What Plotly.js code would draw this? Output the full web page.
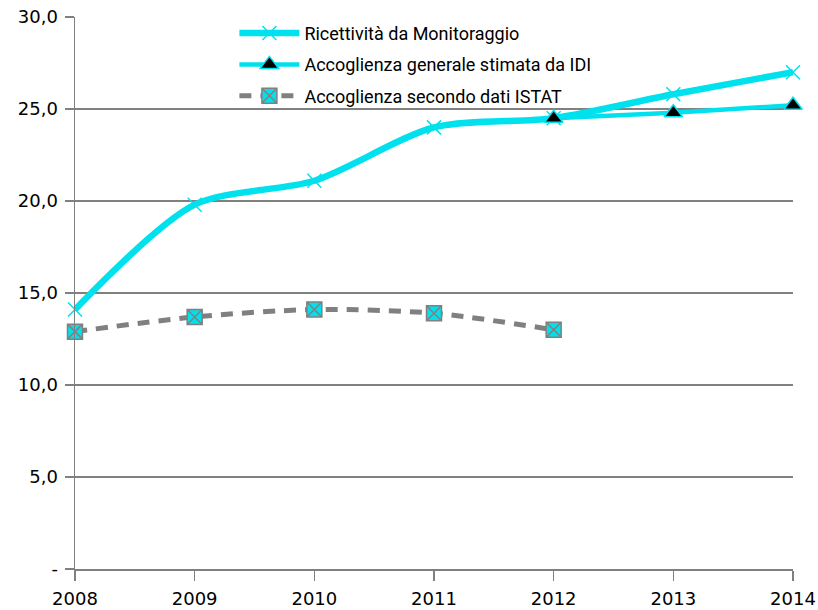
<!DOCTYPE html>
<html>
<head>
<meta charset="utf-8">
<script src="https://cdn.plot.ly/plotly-3.0.1.min.js"></script>
<style>html,body{margin:0;padding:0;background:#fff}#chart{width:818px;height:610px}</style>
</head>
<body>
<div id="chart"></div>
<script>
const years = [2008, 2009, 2010, 2011, 2012, 2013, 2014];
const ricettivita = [14.1, 19.8, 21.1, 24.0, 24.5, 25.8, 27.0];
const idiYears = [2012, 2013, 2014];
const accoglienzaIDI = [24.5, 24.8, 25.2];
const istatYears = [2008, 2009, 2010, 2011, 2012];
const accoglienzaISTAT = [12.9, 13.7, 14.1, 13.9, 13.0];
const yTickVals = [0, 5, 10, 15, 20, 25, 30];
const yTickText = ["-", "5,0", "10,0", "15,0", "20,0", "25,0", "30,0"];
const seriesNames = ["Ricettività da Monitoraggio", "Accoglienza generale stimata da IDI", "Accoglienza secondo dati ISTAT"];

const cyan = "#00e1ee";
const gray = "#808080";

const traces = [
  {
    x: years, y: ricettivita, name: seriesNames[0], mode: "lines+markers", legendgroup: "a", cliponaxis: false,
    line: {color: cyan, width: 6.5, shape: "spline", smoothing: 0.8},
    marker: {symbol: "x-thin", size: 14, color: cyan, line: {color: cyan, width: 1.5}}
  },
  {
    x: idiYears, y: accoglienzaIDI, name: seriesNames[1], mode: "lines+markers", legendgroup: "b", cliponaxis: false,
    line: {color: cyan, width: 4.5, shape: "spline", smoothing: 0.8},
    marker: {symbol: "triangle-up", size: 16, color: "#000", line: {color: cyan, width: 1.5}}
  },
  {
    x: istatYears, y: accoglienzaISTAT, name: seriesNames[2], mode: "lines+markers", legendgroup: "c", cliponaxis: false,
    line: {color: gray, width: 5, shape: "spline", smoothing: 0.8, dash: "12px,9px"},
    marker: {symbol: "square-x", size: 15, color: cyan, line: {color: gray, width: 1.5}}
  }
];

const layout = {
  width: 818, height: 610,
  margin: {l: 75, r: 25, t: 17, b: 41},
  paper_bgcolor: "#fff", plot_bgcolor: "#fff",
  separators: ",.",
  font: {family: "DejaVu Sans, sans-serif", color: "#000", size: 18},
  showlegend: true,
  legend: {
    x: 0.222, y: 1.004, xanchor: "left", yanchor: "top",
    bgcolor: "rgba(255,255,255,0)",
    font: {family: "Roboto, sans-serif", size: 18, color: "#000"},
    itemwidth: 60, tracegroupgap: 5, traceorder: "grouped"
  },
  xaxis: {
    range: [2008, 2014], tickvals: years, ticktext: years.map(String),
    showgrid: false, showline: true, linecolor: gray, linewidth: 1.5,
    ticks: "outside", ticklen: 10, tickcolor: gray, tickwidth: 1.5,
    zeroline: false, fixedrange: true, ticklabelstandoff: 3,
    tickfont: {size: 18}
  },
  yaxis: {
    range: [0, 30], tickvals: yTickVals, ticktext: yTickText,
    showgrid: true, gridcolor: gray, gridwidth: 1.2,
    showline: true, linecolor: gray, linewidth: 1.5,
    ticks: "outside", ticklen: 9, tickcolor: gray, tickwidth: 1.5,
    zeroline: false, fixedrange: true, ticklabelstandoff: 3,
    tickfont: {size: 18}
  }
};

Plotly.newPlot("chart", traces, layout, {displayModeBar: false, staticPlot: true});
</script>
</body>
</html>
